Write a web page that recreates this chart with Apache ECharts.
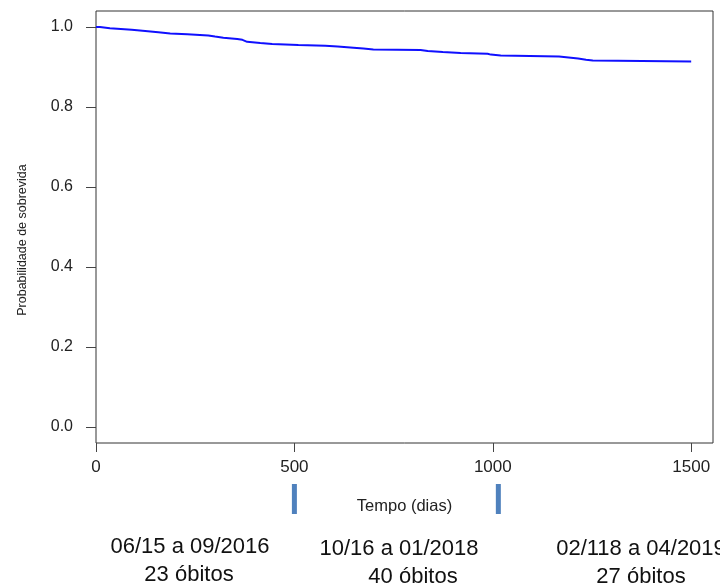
<!DOCTYPE html>
<html>
<head>
<meta charset="utf-8">
<script src="https://cdn.jsdelivr.net/npm/echarts@6/dist/echarts.min.js"></script>
<style>
html,body{margin:0;padding:0;background:#fff;}
#chart{width:720px;height:587px;}
</style>
</head>
<body>
<div id="chart"></div>
<script>
// Kaplan-Meier survival curve (time in days, survival probability after each step)
var times = [0, 10, 35, 90, 124, 157, 187, 230, 283, 300, 321, 356, 369, 381, 414, 444, 510, 578, 609, 649, 674, 699, 818, 836, 874, 919, 987, 995, 1020, 1167, 1215, 1235, 1252, 1500];
var surv  = [1.0, 0.997, 0.993, 0.990, 0.987, 0.984, 0.982, 0.979, 0.976, 0.973, 0.970, 0.968, 0.963, 0.960, 0.9575, 0.955, 0.953, 0.951, 0.948, 0.946, 0.944, 0.9425, 0.940, 0.9375, 0.935, 0.933, 0.931, 0.929, 0.926, 0.921, 0.918, 0.916, 0.914, 0.914];

var xTicks = [0, 500, 1000, 1500];
var yTicks = [0, 0.2, 0.4, 0.6, 0.8, 1.0];

// period boundaries (days) shown as markers below the axis
var markerDays = [500, 1014];

// period annotations
var periodLabels = ['06/15 a 09/2016', '10/16 a 01/2018', '02/118 a 04/2019'];
var deathLabels = ['23 óbitos', '40 óbitos', '27 óbitos'];

var xTitle = 'Tempo (dias)';
var yTitle = 'Probabilidade de sobrevida';

var X_MIN = 0, X_MAX = 1555;
var Y_MIN = -0.04, Y_MAX = 1.04;

var FONT = '"Liberation Sans", Arial, sans-serif';

var lineData = times.map(function (t, i) { return [t, surv[i]]; });

// layout of annotation texts (style, not data)
var periodX = [190, 399, 641];
var line1Y = [547, 549, 549];
var line2Y = [575, 577, 577];
var line2X = [189, 413, 641];

var graphics = [];
periodLabels.forEach(function (s, i) {
  graphics.push({
    type: 'text', x: periodX[i], y: line1Y[i], silent: true,
    style: { text: s, fontSize: 22, fontFamily: FONT, fill: '#111', align: 'center', verticalAlign: 'middle' }
  });
  graphics.push({
    type: 'text', x: line2X[i], y: line2Y[i], silent: true,
    style: { text: deathLabels[i], fontSize: 22, fontFamily: FONT, fill: '#111', align: 'center', verticalAlign: 'middle' }
  });
});
graphics.push({
  type: 'text', x: 23, y: 240, rotation: Math.PI / 2, silent: true,
  style: { text: yTitle, fontSize: 12.5, fontFamily: FONT, fill: '#222', align: 'center', verticalAlign: 'middle' }
});

var chart = echarts.init(document.getElementById('chart'), null, { renderer: 'canvas' });
chart.setOption({
  animation: false,
  backgroundColor: '#fff',
  grid: { left: 96, right: 7, top: 11, bottom: 144, show: true, borderColor: '#333', borderWidth: 1, backgroundColor: 'transparent' },
  xAxis: {
    type: 'value', min: X_MIN, max: X_MAX,
    name: xTitle, nameLocation: 'middle', nameGap: 55,
    nameTextStyle: { fontSize: 16.5, fontFamily: FONT, color: '#222' },
    axisLine: { show: false, onZero: false },
    splitLine: { show: false },
    axisTick: { show: true, length: 9, lineStyle: { color: '#444' }, customValues: xTicks },
    axisLabel: { customValues: xTicks, margin: 16, fontSize: 17, fontFamily: FONT, color: '#222',
      formatter: function (v) { return String(v); } }
  },
  yAxis: {
    type: 'value', min: Y_MIN, max: Y_MAX,
    axisLine: { show: false, onZero: false },
    splitLine: { show: false },
    axisTick: { show: true, length: 10, lineStyle: { color: '#444' }, customValues: yTicks },
    axisLabel: { customValues: yTicks, margin: 23, fontSize: 16, fontFamily: FONT, color: '#222',
      formatter: function (v) { return v.toFixed(1); } }
  },
  series: [
    {
      type: 'line', data: lineData, step: 'end', showSymbol: false, silent: true,
      lineStyle: { color: '#1010ff', width: 2 }
    },
    {
      type: 'custom', clip: false, silent: true,
      data: markerDays.map(function (d) { return [d, Y_MIN]; }),
      encode: { x: 0, y: 1 },
      renderItem: function (params, api) {
        var p = api.coord([api.value(0), Y_MIN]);
        return {
          type: 'rect',
          shape: { x: p[0] - 2.5, y: p[1] + 41, width: 5, height: 30 },
          style: { fill: '#4f81bd' }
        };
      }
    }
  ],
  graphic: graphics
});
</script>
</body>
</html>
